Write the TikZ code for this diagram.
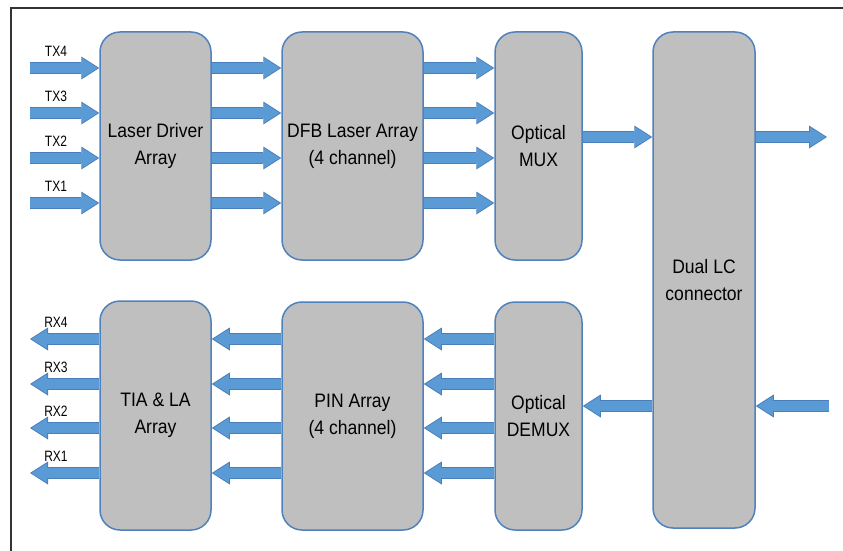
\documentclass[tikz,border=0pt]{standalone}
\usepackage{fontspec}
\setmainfont{Liberation Sans}[FakeStretch=0.9]
\newfontfamily\narrowsf{Liberation Sans}[FakeStretch=0.8]
\usetikzlibrary{arrows.meta}
\definecolor{boxgray}{HTML}{BFBFBF}
\definecolor{boxedge}{HTML}{4F81BD}
\definecolor{arrfill}{HTML}{5B9BD5}
\definecolor{arredge}{HTML}{4A7EBB}
\definecolor{framegray}{HTML}{333333}
\tikzset{b/.style={draw=boxedge, line width=1.5pt, fill=boxgray, rounded corners=20pt, align=center, inner sep=0pt, font=\fontsize{19.5}{27}\selectfont}}
\tikzset{l/.style={font=\narrowsf\fontsize{15}{15}\selectfont}}
\tikzset{
fat/.style={preaction={draw=arredge, line width=12pt, shorten >=0pt, -{Triangle[length=18pt,width=23pt,line width=0pt]}}, draw=arrfill, line width=9.5pt, shorten >=1.6pt, -{Triangle[length=15.5pt,width=19.5pt,line width=0pt]}}
}

\begin{document}
\begin{tikzpicture}[x=1pt, y=-1pt]
    \useasboundingbox (0,0) rectangle (843,551);
    \draw[line width=2pt, framegray] (11,551) -- (11,8) -- (843,8);
    % transmit side
    \node[b, minimum width=111pt, minimum height=228pt] (ldd) at (155.5,146) {Laser Driver\\Array};
    \node[b, minimum width=141pt, minimum height=228pt] (dfb) at (352.5,146) {DFB Laser Array\\(4 channel)};
    \node[b, minimum width=87pt, minimum height=228pt] (mux) at (538.5,146) {Optical\\MUX};
    % receive side
    \node[b, minimum width=111pt, minimum height=229pt] (tia) at (155.5,415.5) {TIA \& LA\\Array};
    \node[b, minimum width=141pt, minimum height=228pt] (pin) at (352.5,416) {PIN Array\\(4 channel)};
    \node[b, minimum width=87pt, minimum height=228pt] (demux) at (538.5,416) {Optical\\DEMUX};
    \node[b, minimum width=102pt, minimum height=496pt] (lc) at (704,280) {Dual LC\\connector};
    \foreach \n/\y in {4/68,3/113,2/158,1/203} {
      \coordinate (tx\n) at (30,\y);
      \node[l] (ltx\n) at (56,\y-17) {TX\n};
      \draw[fat] (tx\n) -- (ldd.west |- tx\n);
      \draw[fat] (ldd.east |- tx\n) -- (dfb.west |- tx\n);
      \draw[fat] (dfb.east |- tx\n) -- (mux.west |- tx\n);
    }
    \foreach \n/\y in {4/339,3/384,2/428,1/473} {
      \coordinate (rx\n) at (30,\y);
      \node[l] (lrx\n) at (56,\y-17) {RX\n};
      \draw[fat] (tia.west |- rx\n) -- (rx\n);
      \draw[fat] (pin.west |- rx\n) -- (tia.east |- rx\n);
      \draw[fat] (demux.west |- rx\n) -- (pin.east |- rx\n);
    }
    \coordinate (fout) at (827,137);
    \coordinate (fin) at (829,406);
    \draw[fat] (mux.east |- fout) -- (lc.west |- fout);
    \draw[fat] (lc.east |- fout) -- (fout);
    \draw[fat] (fin) -- (lc.east |- fin);
    \draw[fat] (lc.west |- fin) -- (demux.east |- fin);
\end{tikzpicture}
\end{document}
